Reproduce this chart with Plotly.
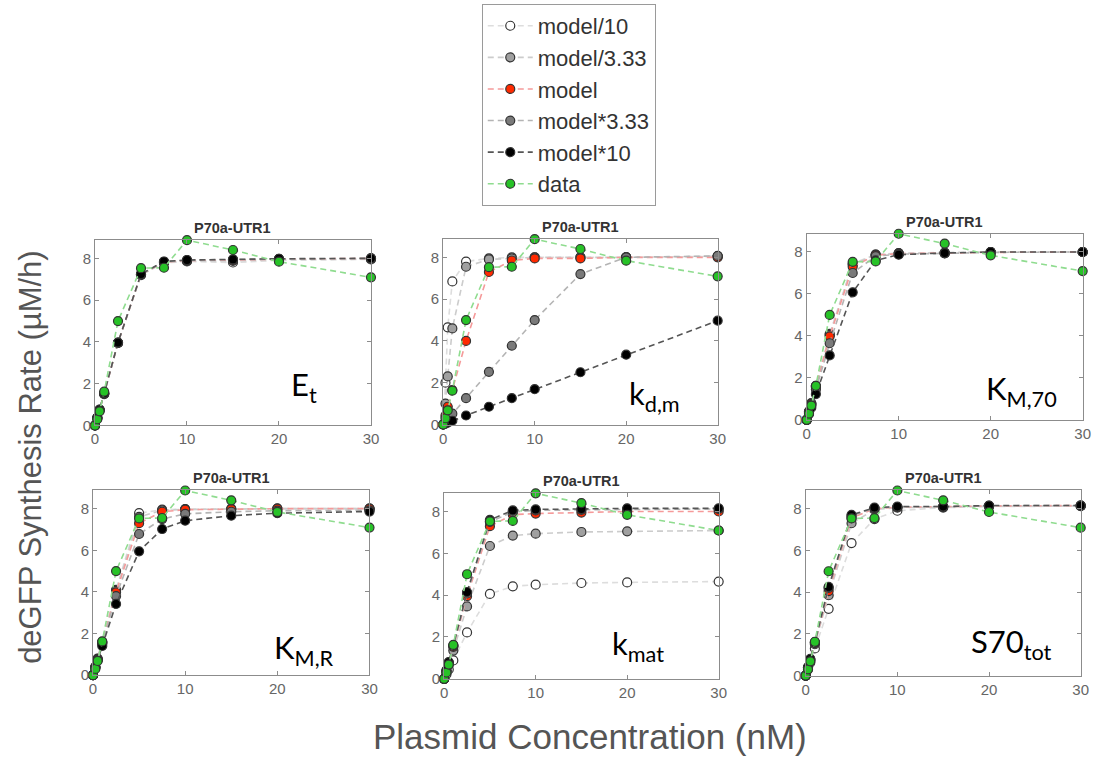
import plotly.graph_objects as go

W, H = 1106, 763

# ---------------- data ----------------
conc = [0, 0.25, 0.5, 1, 2.5, 5, 7.5, 10, 15, 20, 30]
data_rate = [0, 0.3, 0.68, 1.62, 5.0, 7.53, 7.55, 8.87, 8.4, 7.84, 7.09]

series_names = ["model/10", "model/3.33", "model", "model*3.33", "model*10"]

Et_m10 = [0, 0.35, 0.72, 1.5, 3.95, 7.2, 7.78, 7.85, 7.8, 7.9, 7.95]
Et_m3 = [0, 0.36, 0.74, 1.52, 3.95, 7.22, 7.8, 7.88, 7.88, 7.95, 7.98]
Et_model = [0, 0.37, 0.75, 1.53, 3.96, 7.23, 7.82, 7.9, 7.92, 7.96, 8.0]
Et_M3 = [0, 0.37, 0.75, 1.54, 3.96, 7.24, 7.83, 7.91, 7.94, 7.97, 8.0]
Et_M10 = [0, 0.38, 0.76, 1.55, 3.97, 7.25, 7.85, 7.92, 7.95, 7.98, 8.0]

kdm_m10 = [0, 2.0, 4.65, 6.85, 7.8, 7.95, 8.0, 8.0, 8.0, 8.0, 8.05]
kdm_m3 = [0, 1.0, 2.3, 4.6, 7.55, 7.9, 7.95, 8.0, 8.0, 8.0, 8.05]
kdm_model = [0, 0.42, 0.85, 1.65, 4.0, 7.3, 7.85, 7.95, 7.95, 8.0, 8.0]
kdm_M3 = [0, 0.13, 0.26, 0.52, 1.26, 2.52, 3.77, 5.0, 7.2, 8.0, 8.07]
kdm_M10 = [0, 0.04, 0.09, 0.18, 0.43, 0.85, 1.26, 1.69, 2.5, 3.34, 4.97]

KM70_m10 = [0, 0.4, 0.8, 1.62, 4.1, 7.45, 7.88, 7.95, 7.97, 8.0, 8.0]
KM70_m3 = [0, 0.39, 0.78, 1.6, 4.05, 7.4, 7.87, 7.93, 7.96, 8.0, 8.0]
KM70_model = [0, 0.38, 0.76, 1.55, 3.98, 7.3, 7.85, 7.92, 7.95, 7.98, 8.0]
KM70_M3 = [0, 0.34, 0.7, 1.45, 3.65, 7.0, 7.8, 7.9, 7.93, 7.98, 8.0]
KM70_M10 = [0, 0.28, 0.58, 1.23, 3.07, 6.08, 7.6, 7.87, 7.95, 8.0, 8.0]

KMR_m10 = [0, 0.4, 0.8, 1.6, 4.1, 7.78, 7.95, 7.98, 8.0, 8.0, 8.0]
KMR_m3 = [0, 0.4, 0.78, 1.57, 4.05, 7.6, 7.92, 7.96, 7.98, 8.0, 8.0]
KMR_model = [0, 0.38, 0.76, 1.55, 3.98, 7.3, 7.85, 7.95, 7.97, 8.0, 8.0]
KMR_M3 = [0, 0.37, 0.74, 1.5, 3.8, 6.78, 7.5, 7.75, 7.85, 7.9, 7.92]
KMR_M10 = [0, 0.36, 0.72, 1.4, 3.42, 5.95, 7.02, 7.42, 7.66, 7.78, 7.86]

kmat_m10 = [0, 0.22, 0.45, 0.88, 2.22, 4.06, 4.42, 4.5, 4.58, 4.61, 4.65]
kmat_m3 = [0, 0.33, 0.68, 1.35, 3.46, 6.35, 6.85, 6.94, 7.02, 7.05, 7.09]
kmat_model = [0, 0.38, 0.76, 1.53, 3.95, 7.3, 7.85, 7.9, 7.95, 8.0, 8.0]
kmat_M3 = [0, 0.39, 0.78, 1.57, 4.08, 7.5, 7.98, 8.05, 8.08, 8.1, 8.12]
kmat_M10 = [0, 0.4, 0.8, 1.6, 4.15, 7.6, 8.05, 8.1, 8.12, 8.15, 8.15]

S70_m10 = [0, 0.3, 0.62, 1.3, 3.2, 6.35, 7.5, 7.9, 8.05, 8.1, 8.12]
S70_m3 = [0, 0.36, 0.72, 1.5, 3.85, 7.3, 7.95, 8.05, 8.08, 8.12, 8.14]
S70_model = [0, 0.38, 0.76, 1.55, 4.05, 7.55, 8.0, 8.07, 8.1, 8.13, 8.15]
S70_M3 = [0, 0.39, 0.78, 1.58, 4.2, 7.65, 8.03, 8.08, 8.1, 8.14, 8.15]
S70_M10 = [0, 0.4, 0.8, 1.6, 4.25, 7.7, 8.05, 8.1, 8.1, 8.15, 8.15]

panel_titles = ["P70a-UTR1"] * 6
panel_labels = ["E<sub>t</sub>", "k<sub>d,m</sub>", "K<sub>M,70</sub>",
                "K<sub>M,R</sub>", "k<sub>mat</sub>", "S70<sub>tot</sub>"]
x_ticks = [0, 10, 20, 30]
y_ticks = [0, 2, 4, 6, 8]

panels = [
    [Et_m10, Et_m3, Et_model, Et_M3, Et_M10],
    [kdm_m10, kdm_m3, kdm_model, kdm_M3, kdm_M10],
    [KM70_m10, KM70_m3, KM70_model, KM70_M3, KM70_M10],
    [KMR_m10, KMR_m3, KMR_model, KMR_M3, KMR_M10],
    [kmat_m10, kmat_m3, kmat_model, kmat_M3, kmat_M10],
    [S70_m10, S70_m3, S70_model, S70_M3, S70_M10],
]

# ---------------- styling ----------------
fill_colors = ["#ffffff", "#a0a0a0", "#ff2a00", "#7a7a7a", "#000000"]
line_colors = ["#dddddd", "#cccccc", "#f59a9a", "#b4b4b4", "#555555"]
data_fill = "#27c227"
data_line = "#8fdc8f"

# pixel boxes: (left, right, top, bottom)
boxes = [
    (92, 371, 242.5, 430),
    (444, 721.5, 241.5, 429),
    (811.5, 1090.5, 236, 424.3),
    (90, 369.5, 495.5, 682.3),
    (445, 722.5, 498.3, 686),
    (810.5, 1088.5, 495.5, 682.7),
]
label_pos = [(288, 391), (630, 400), (991, 395), (271, 656), (613, 652), (976, 650)]


def px(x):
    return x / W


def py(y):
    return 1 - y / H


fig = go.Figure()
annotations = []
layout_axes = {}

for i, (series, box) in enumerate(zip(panels, boxes)):
    n = i + 1
    xa = "x" if n == 1 else f"x{n}"
    ya = "y" if n == 1 else f"y{n}"
    for j, vals in enumerate(series):
        fig.add_trace(go.Scatter(
            x=conc, y=vals, mode="lines+markers", name=series_names[j],
            legendgroup=series_names[j], showlegend=(i == 0),
            line=dict(color=line_colors[j], width=1.6, dash="6px,4px"),
            marker=dict(size=9, color=fill_colors[j],
                        line=dict(color="#333333", width=1.2)),
            xaxis=xa, yaxis=ya, cliponaxis=False,
        ))
    fig.add_trace(go.Scatter(
        x=conc, y=data_rate, mode="lines+markers", name="data",
        legendgroup="data", showlegend=(i == 0),
        line=dict(color=data_line, width=1.6, dash="6px,4px"),
        marker=dict(size=9, color=data_fill, line=dict(color="#333333", width=1.2)),
        xaxis=xa, yaxis=ya, cliponaxis=False,
    ))
    l, r, t, b = box
    axis_common = dict(showline=True, mirror="ticks", linecolor="#8c8c8c", linewidth=1,
                       ticks="inside", ticklen=4, tickcolor="#8c8c8c", showgrid=False,
                       zeroline=False, tickfont=dict(family="Liberation Sans, Arial",
                                                     size=15, color="#666666"))
    layout_axes["xaxis" if n == 1 else f"xaxis{n}"] = dict(
        domain=[px(l), px(r)], range=[0, 30], tickvals=x_ticks,
        anchor=ya, **axis_common)
    layout_axes["yaxis" if n == 1 else f"yaxis{n}"] = dict(
        domain=[py(b), py(t)], range=[0, 8.88], tickvals=y_ticks,
        anchor=xa, **axis_common)
    annotations.append(dict(
        x=px((l + r) / 2), y=py(t - 2), xref="paper", yref="paper",
        text="<b>" + panel_titles[i] + "</b>", showarrow=False,
        xanchor="center", yanchor="bottom",
        font=dict(family="Liberation Sans, Arial", size=14.5, color="#333333")))
    lx, ly = label_pos[i]
    annotations.append(dict(
        x=px(lx), y=py(ly), xref="paper", yref="paper", text=panel_labels[i],
        showarrow=False, xanchor="left", yanchor="middle",
        font=dict(family="Lato, Open Sans", size=31, color="#000000")))

annotations.append(dict(
    x=px(26), y=py(462), xref="paper", yref="paper",
    text="deGFP Synthesis Rate (µM/h)", textangle=-90, showarrow=False,
    xanchor="center", yanchor="middle",
    font=dict(family="Liberation Sans, Arial", size=31, color="#555555")))
annotations.append(dict(
    x=px(592), y=py(744), xref="paper", yref="paper",
    text="Plasmid Concentration (nM)", showarrow=False,
    xanchor="center", yanchor="middle",
    font=dict(family="Liberation Sans, Arial", size=35, color="#555555")))

fig.update_layout(
    width=W, height=H, margin=dict(l=0, r=0, t=0, b=0),
    paper_bgcolor="white", plot_bgcolor="white",
    annotations=annotations,
    legend=dict(x=px(483), y=py(4), xanchor="left", yanchor="top",
                bordercolor="#9a9a9a", borderwidth=1, bgcolor="white",
                itemwidth=45, tracegroupgap=0,
                font=dict(family="Liberation Sans, Arial", size=22, color="#333333")),
    **layout_axes,
)

fig.write_html("out.html")
